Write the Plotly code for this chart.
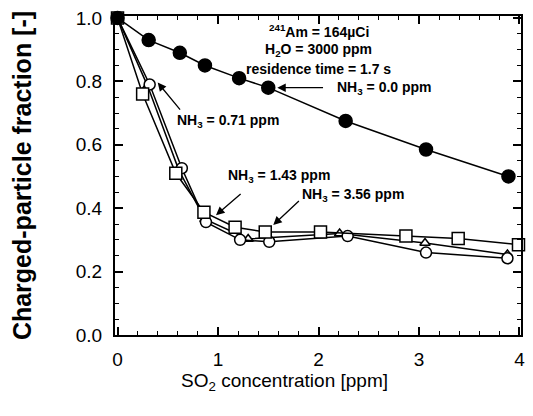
import plotly.graph_objects as go

# Data
x_nh3_0 = [0.0, 0.31, 0.62, 0.87, 1.21, 1.50, 2.27, 3.07, 3.89]
y_nh3_0 = [1.0, 0.93, 0.89, 0.85, 0.81, 0.78, 0.675, 0.585, 0.50]

x_nh3_071 = [0.0, 0.30, 0.61, 0.87, 1.30, 2.21, 3.06, 3.88]
y_nh3_071 = [1.0, 0.785, 0.52, 0.365, 0.303, 0.32, 0.29, 0.254]

x_nh3_143 = [0.0, 0.32, 0.64, 0.88, 1.22, 1.51, 2.29, 3.07, 3.88]
y_nh3_143 = [1.0, 0.79, 0.526, 0.356, 0.30, 0.294, 0.312, 0.26, 0.242]

x_nh3_356 = [0.0, 0.25, 0.58, 0.86, 1.17, 1.47, 2.02, 2.87, 3.39, 3.99]
y_nh3_356 = [1.0, 0.76, 0.51, 0.387, 0.34, 0.325, 0.325, 0.312, 0.304, 0.285]

x_ticks = [0, 1, 2, 3, 4]
y_ticks = [0.0, 0.2, 0.4, 0.6, 0.8, 1.0]
y_tick_labels = ["0.0", "0.2", "0.4", "0.6", "0.8", "1.0"]

FONT = "Liberation Sans, Arial, sans-serif"

fig = go.Figure()

def add(xs, ys, symbol, size, fill):
    fig.add_trace(go.Scatter(
        x=xs, y=ys, mode="lines+markers",
        line=dict(color="black", width=1.5),
        marker=dict(symbol=symbol, size=size, color=fill,
                    line=dict(color="black", width=1.5)),
        showlegend=False, cliponaxis=False))

add(x_nh3_071, y_nh3_071, "triangle-up", 9, "white")
add(x_nh3_143, y_nh3_143, "circle", 11, "white")
add(x_nh3_356, y_nh3_356, "square", 12, "white")
add(x_nh3_0, y_nh3_0, "circle", 13, "black")

ann = []
def label(x, y, text, xanchor="left", size=14):
    ann.append(dict(x=x, y=y, xref="x", yref="y", text=text, showarrow=False,
                    xanchor=xanchor, yanchor="middle",
                    font=dict(family=FONT, size=size, color="black", weight="bold")))

def arrow(x0, y0, x1, y1):
    ann.append(dict(x=x1, y=y1, ax=x0, ay=y0, xref="x", yref="y", axref="x", ayref="y",
                    text="", showarrow=True, arrowhead=2, arrowsize=1.3,
                    arrowwidth=1.3, arrowcolor="black"))

label(2.0, 0.958, "<sup>241</sup>Am = 164µCi", "center")
label(2.0, 0.899, "H<sub>2</sub>O = 3000 ppm", "center")
label(2.0, 0.838, "residence time = 1.7 s", "center")
label(2.16, 0.78, "NH<sub>3</sub> = 0.0 ppm")
label(0.57, 0.675, "NH<sub>3</sub> = 0.71 ppm")
label(1.08, 0.50, "NH<sub>3</sub> = 1.43 ppm")
label(1.82, 0.443, "NH<sub>3</sub> = 3.56 ppm")

arrow(2.06, 0.78, 1.59, 0.78)
arrow(0.635, 0.706, 0.40, 0.796)
arrow(1.24, 0.449, 0.98, 0.378)
arrow(1.82, 0.427, 1.55, 0.347)

ann.append(dict(x=0.417, y=-0.105, xref="paper", yref="paper", showarrow=False,
                text="SO<sub>2</sub> concentration [ppm]", xanchor="center", yanchor="top",
                font=dict(family=FONT, size=19, color="black")))
ann.append(dict(x=-0.23, y=0.50, xref="paper", yref="paper", showarrow=False,
                text="Charged-particle fraction [-]", textangle=-90,
                xanchor="center", yanchor="middle",
                font=dict(family=FONT, size=25, color="black", weight="bold")))

axis_common = dict(showline=True, linecolor="black", linewidth=2, mirror="ticks",
                   ticks="inside", ticklen=8, tickwidth=1.5, tickcolor="black",
                   showgrid=False, zeroline=False, ticklabeloverflow="allow",
                   tickfont=dict(family=FONT, size=19, color="black"))

fig.update_layout(
    width=533, height=416,
    margin=dict(l=115, r=8, t=10, b=81),
    paper_bgcolor="white", plot_bgcolor="white",
    xaxis=dict(range=[-0.025, 4.015], tickvals=x_ticks, ticklabelstandoff=6,
               minor=dict(ticks="inside", dtick=0.2, ticklen=4, tickwidth=1.2, tickcolor="black"),
               **axis_common),
    yaxis=dict(range=[0, 1.006], tickvals=y_ticks, ticktext=y_tick_labels, ticklabelstandoff=7,
               minor=dict(ticks="inside", dtick=0.05, ticklen=4, tickwidth=1.2, tickcolor="black"),
               **axis_common),
    annotations=ann,
)

fig.write_html("out.html", config={"displayModeBar": False},
               post_script="document.body.style.margin='0px';document.body.style.overflow='hidden';")
